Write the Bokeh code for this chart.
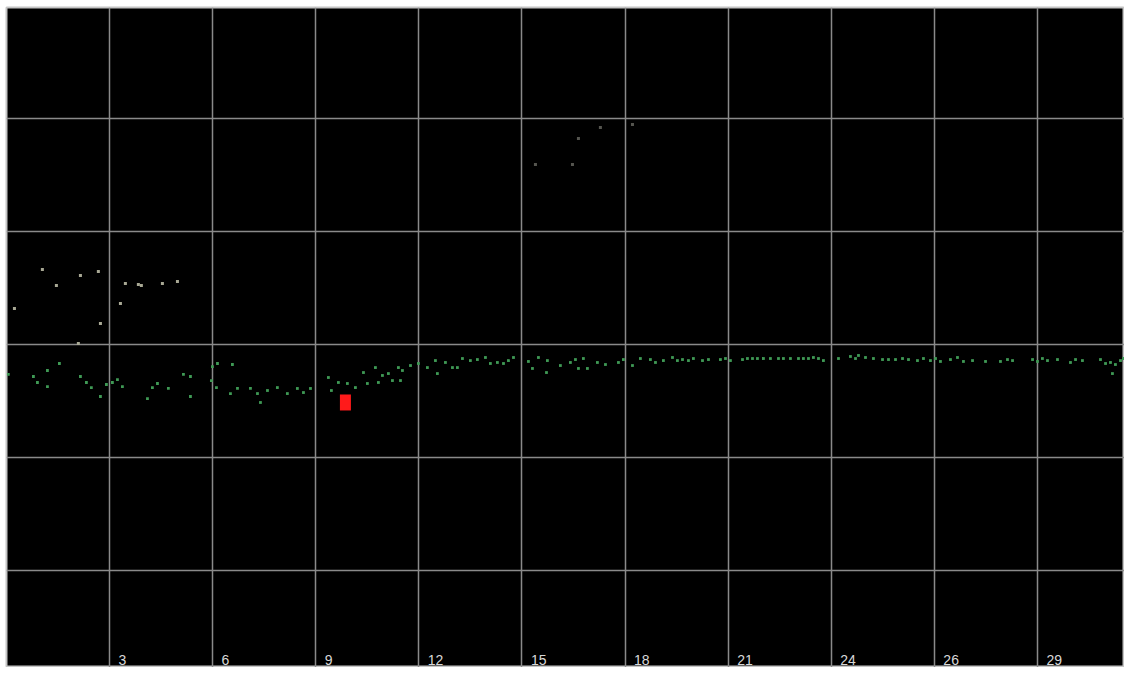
from bokeh.plotting import figure
from bokeh.models import FixedTicker, Range1d, ColumnDataSource
from bokeh.embed import file_html
from bokeh.resources import INLINE
from bokeh.core.properties import value

# ---- data (x in grid-slot units, y in grid-row units) ----
tick_labels = ["3", "6", "9", "12", "15", "18", "21", "24", "26", "29"]
tick_pos = [1, 2, 3, 4, 5, 6, 7, 8, 9, 10]
y_grid = [-2, -1, 0, 1, 2]

upper_x = [0.349, 0.485, 0.718, 0.892, 0.078, 0.912, 0.698, 1.154, 1.280, 1.309, 1.513, 1.659, 1.106]
upper_y = [0.664, 0.522, 0.611, 0.646, 0.319, 0.186, 0.009, 0.540, 0.531, 0.522, 0.540, 0.558, 0.363]

far_x = [5.131, 5.490, 5.548, 5.761, 6.072]
far_y = [1.593, 1.593, 1.823, 1.920, 1.947]

green_x = [
    0.019, 0.262, 0.301, 0.398, 0.398, 0.514, 0.718, 0.776, 0.824, 0.912, 0.970, 1.028, 1.077, 1.125,
    1.368, 1.416, 1.465, 1.571, 1.717, 1.785, 1.785, 1.998, 2.047, 1.988, 2.037,
    2.192, 2.173, 2.241, 2.367, 2.435, 2.464, 2.532, 2.628, 2.725, 2.822, 2.881, 2.949, 3.123, 3.152,
    3.220, 3.307, 3.385, 3.463, 3.501, 3.579, 3.608, 3.647, 3.705, 3.744, 3.802, 3.822, 3.841, 3.919,
    3.996, 4.083, 4.161, 4.180, 4.258, 4.326,
    4.374, 4.423, 4.500, 4.568, 4.646, 4.694, 4.762, 4.821, 4.869, 4.918, 5.063, 5.102, 5.160, 5.247,
    5.238, 5.373, 5.470, 5.519, 5.548, 5.596, 5.635, 5.732, 5.810, 5.936, 5.984, 6.072, 6.149, 6.246,
    6.295, 6.372, 6.460,
    6.508, 6.557, 6.615, 6.663, 6.751, 6.809, 6.925, 6.974, 7.022, 7.139, 7.187, 7.236, 7.284, 7.342,
    7.410, 7.488, 7.536, 7.604, 7.682, 7.730, 7.779, 7.827, 7.876, 7.924, 8.070, 8.186, 8.235, 8.264,
    8.332, 8.409, 8.497, 8.555, 8.623, 8.691,
    8.749, 8.836, 8.894, 8.962, 9.011, 9.059, 9.156, 9.224, 9.282, 9.370, 9.496, 9.641, 9.709, 9.758,
    9.952, 10.000, 10.048, 10.097, 10.194, 10.320, 10.369, 10.436, 10.611, 10.660, 10.708, 10.756,
    10.727, 10.805, 10.835,
]
green_y = [
    -0.265, -0.283, -0.336, -0.230, -0.372, -0.168, -0.283, -0.336, -0.381, -0.460, -0.354, -0.336, -0.310, -0.372,
    -0.478, -0.381, -0.345, -0.389, -0.265, -0.283, -0.460, -0.195, -0.168, -0.319, -0.381,
    -0.177, -0.434, -0.389, -0.389, -0.434, -0.513, -0.407, -0.381, -0.434, -0.389, -0.425, -0.389, -0.292, -0.407,
    -0.336, -0.345, -0.381, -0.248, -0.345, -0.204, -0.336, -0.274, -0.257, -0.319, -0.204, -0.319, -0.230, -0.186,
    -0.168, -0.204, -0.142, -0.257, -0.159, -0.204,
    -0.204, -0.124, -0.142, -0.133, -0.115, -0.168, -0.159, -0.168, -0.142, -0.115, -0.150, -0.212, -0.115, -0.142,
    -0.248, -0.186, -0.159, -0.133, -0.212, -0.124, -0.212, -0.159, -0.177, -0.159, -0.133, -0.186, -0.124, -0.133,
    -0.159, -0.142, -0.115,
    -0.142, -0.133, -0.142, -0.124, -0.142, -0.133, -0.133, -0.124, -0.142, -0.133, -0.124, -0.124, -0.124, -0.124,
    -0.124, -0.124, -0.124, -0.124, -0.124, -0.124, -0.124, -0.115, -0.124, -0.142, -0.124, -0.106, -0.124, -0.097,
    -0.115, -0.124, -0.133, -0.133, -0.133, -0.124,
    -0.133, -0.142, -0.124, -0.142, -0.124, -0.150, -0.133, -0.115, -0.150, -0.142, -0.150, -0.150, -0.133, -0.142,
    -0.133, -0.150, -0.124, -0.142, -0.133, -0.159, -0.133, -0.142, -0.133, -0.168, -0.159, -0.177,
    -0.257, -0.142, -0.124,
]

marker_x = [3.288]
marker_y = [-0.513]

# ---- figure ----
p = figure(width=1124, height=667, output_backend="svg", toolbar_location=None,
           x_range=Range1d(0.001, 10.844), y_range=Range1d(-2.858, 2.982),
           min_border=0, min_border_left=6, min_border_right=0,
           min_border_top=7, min_border_bottom=0)
p.background_fill_color = "black"
p.border_fill_color = "white"
p.outline_line_color = "#c4c4c4"
p.outline_line_width = 2
p.axis.visible = False
p.xgrid.ticker = FixedTicker(ticks=tick_pos)
p.ygrid.ticker = FixedTicker(ticks=y_grid)
p.grid.grid_line_color = "#8a8a8a"
p.grid.grid_line_width = 1.5

p.scatter(green_x, green_y, marker="square", size=2.8, color="#3f9a55", line_color=None)
p.scatter(upper_x, upper_y, marker="square", size=3, color="#a8a894", line_color=None)
p.scatter(far_x, far_y, marker="square", size=3, color="#55554f", line_color=None)
p.rect(marker_x, marker_y, width=11, height=16, width_units="screen", height_units="screen",
       color="#ff1a1a", line_color=None)

src = ColumnDataSource(dict(x=tick_pos, y=[p.y_range.start] * len(tick_pos), t=tick_labels))
p.text(x="x", y="y", text="t", source=src, x_offset=9, y_offset=-8,
       text_font=value("Liberation Sans"), text_font_size="14px",
       text_color="#d8d8d8", text_baseline="alphabetic", text_align="left")

open("out.html", "w").write(file_html(p, INLINE))
